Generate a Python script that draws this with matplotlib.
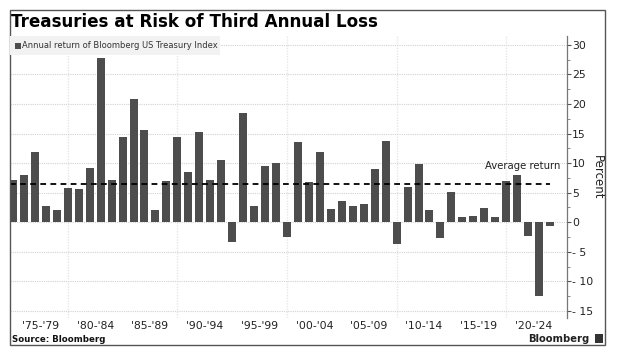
import matplotlib
matplotlib.use("Agg")
import matplotlib.pyplot as plt
from matplotlib.patches import Rectangle
import numpy as np

W, H = 619, 355

# annual return per year
years = np.arange(1975, 2025)
returns = [7.1, 8.0, 11.8, 2.7, 2.1, 5.8, 5.6, 9.2, 27.8, 7.1,
           14.4, 20.9, 15.6, 2.1, 7.0, 14.4, 8.5, 15.3, 7.2, 10.6,
           -3.4, 18.4, 2.7, 9.5, 10.0, -2.5, 13.5, 6.8, 11.8, 2.3,
           3.6, 2.8, 3.1, 9.0, 13.7, -3.6, 5.9, 9.8, 2.0, -2.7,
           5.1, 0.9, 1.0, 2.4, 0.9, 6.9, 8.0, -2.3, -12.4, -0.6]
average = 6.5
y_ticks = [30, 25, 20, 15, 10, 5, 0, -5, -10, -15]
y_labels = ["30", "25", "20", "15", "10", "5", "0", "- 5", "- 10", "- 15"]
period_starts = [1975, 1980, 1985, 1990, 1995, 2000, 2005, 2010, 2015, 2020]
period_labels = ["'75-'79", "'80-'84", "'85-'89", "'90-'94", "'95-'99",
                 "'00-'04", "'05-'09", "'10-'14", "'15-'19", "'20-'24"]
grid_years = [1980, 1990, 2000, 2010, 2020]

def fx(px):
    return px / W

def fy(px):
    return 1 - px / H

fig = plt.figure(figsize=(W / 100, H / 100), dpi=100, facecolor="white")
plt.rcParams["font.family"] = "DejaVu Sans"

# outer frame
fig.add_artist(Rectangle((fx(9.5), fy(345)), fx(595.5), 335 / H, transform=fig.transFigure,
                         fill=False, edgecolor="#555555", linewidth=1))

ax = fig.add_axes([fx(10), fy(318), fx(556.7), 282 / H])
ax.set_facecolor("none")
ax.set_xlim(1974.73, 2025.52)
ax.set_ylim(-16.2, 31.5)

for g in grid_years:
    ax.axvline(g, color="#e6e6e6", linewidth=1, linestyle=(0, (1, 1)), zorder=1)
for t in y_ticks:
    ax.axhline(t, color="#d2d2d2", linewidth=0.8, linestyle=(0, (1, 1)), zorder=1)

ax.bar(years, returns, width=0.73, color="#4d4d4d", zorder=2)
ax.plot([1974.73, 2024], [average, average], color="black", linewidth=1.3,
        linestyle=(0, (3.2, 2.4)), zorder=3)

for side in ["top", "left", "bottom"]:
    ax.spines[side].set_visible(False)
ax.spines["right"].set_color("#777777")
ax.spines["right"].set_linewidth(0.9)

ax.yaxis.tick_right()
ax.set_yticks(y_ticks)
ax.set_yticklabels(y_labels, fontsize=7.8, color="#222222")
ax.set_yticks(np.arange(-15, 31, 2.5), minor=True)
ax.tick_params(axis="y", which="major", length=3, width=0.8, color="#555555", pad=1)
ax.tick_params(axis="y", which="minor", length=1.8, width=0.6, color="#777777")
ax.set_xticks([])

for s, lab in zip(period_starts, period_labels):
    ax.annotate(lab, xy=(s + 2.5, 0), xycoords=("data", "axes fraction"), xytext=(0, -6),
                textcoords="offset points", ha="center", va="center", fontsize=7.8, color="#222222")

ax.text(2024.9, 9.55, "Average return", ha="right", va="center", fontsize=7.3, color="#222222")

fig.text(fx(11), fy(22.3), "Treasuries at Risk of Third Annual Loss", fontsize=12.1,
         fontweight="bold", color="black", ha="left", va="center")
fig.text(fx(597), fy(177.5), "Percent", rotation=270, fontsize=8.5, color="#222222",
         ha="center", va="center")

# legend box
fig.add_artist(Rectangle((fx(10), fy(55)), fx(210), 19 / H, transform=fig.transFigure,
                         facecolor="#f2f2f2", edgecolor="none", zorder=4))
fig.add_artist(Rectangle((fx(14.7), fy(48.7)), fx(6), 6 / H, transform=fig.transFigure,
                         facecolor="#4d4d4d", edgecolor="none", zorder=5))
fig.text(fx(22.5), fy(46), "Annual return of Bloomberg US Treasury Index", fontsize=6.0,
         color="#333333", ha="left", va="center", zorder=5)

fig.text(fx(12), fy(339.5), "Source: Bloomberg", fontsize=6.2, fontweight="bold",
         color="#111111", ha="left", va="center")
fig.text(fx(589.5), fy(338.5), "Bloomberg", fontsize=7.2, fontweight="bold",
         color="#222222", ha="right", va="center")
fig.add_artist(Rectangle((fx(595), fy(343)), fx(8), 9 / H, transform=fig.transFigure,
                         facecolor="#333333", edgecolor="none", zorder=5))

fig.savefig("out.png", dpi=100)
